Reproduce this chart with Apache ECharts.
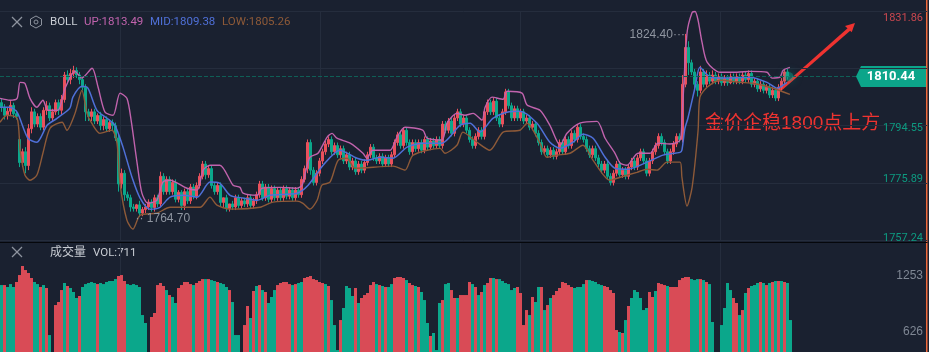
<!DOCTYPE html>
<html>
<head>
<meta charset="utf-8">
<style>html,body{margin:0;padding:0;background:#1a2130}#main{width:929px;height:352px}</style>
<script src="https://cdn.jsdelivr.net/npm/echarts@6/dist/echarts.min.js"></script>
</head>
<body>
<div id="main"></div>
<script>
const opens = [
1802,1800.5,1797.9,1799.2,1801.1,1798.4,1790,1782.5,1786,1781.5,
1793.5,1799,1795,1797.5,1794,1799.5,1801,1797,1799,1802,
1799.5,1803,1811,1809.5,1811.5,1812.5,1811,1809.5,1807,1799,
1797.5,1799,1796,1797.8,1794.5,1796.5,1793.5,1795.5,1794.5,1790.5,
1775.5,1779,1772,1771,1768,1767.5,1768.7,1766,1767.2,1768,
1769.6,1767.8,1771,1769,1778,1773,1777,1773,1776,1770.5,
1772.8,1768.5,1773,1770,1774.5,1771.5,1775,1778,1782,1778.5,
1780.5,1775,1773,1775,1769.5,1771,1767.5,1769,1768,1771,
1768.5,1770,1769,1771,1768.5,1770,1772,1775.5,1771,1774.5,
1770.5,1774,1771,1773.5,1771,1774,1771.5,1773.5,1771,1773.5,
1772,1777,1780.5,1789,1780,1776,1779,1783,1786,1788.5,
1790,1786,1788,1785,1787,1783,1785,1781,1783,1779.5,
1782,1780,1782.5,1785,1787.5,1784,1783,1784.5,1782,1784,
1782,1785,1789,1791.5,1788,1793,1789,1786,1789,1787,
1789,1786.5,1790,1787.5,1789.5,1788,1790,1788,1795,1793,
1796,1792,1797,1799,1795,1797,1793,1790,1788,1791,
1793,1791,1799,1802,1799,1802.5,1797,1795,1799,1805.5,
1801,1797,1800,1797,1799,1796,1797,1794,1795,1792,
1789,1786,1787,1785,1786.5,1784.5,1786,1789,1786,1790,
1788,1792,1790,1794,1791,1790,1787,1785,1787,1784,
1782,1780,1782,1778,1776,1779,1782,1778.5,1780,1778,
1781,1783,1781,1784,1786,1783,1779,1783,1786,1788,
1791,1789,1786,1783,1786,1788.5,1791,1790,1808,1820,
1815,1812,1808,1806,1812,1808,1811,1809,1811,1809,
1810.5,1808.5,1810,1808.5,1810.5,1809,1810.5,1809,1811,1809.5,
1811.5,1808,1809,1806.5,1808,1806,1807,1804.5,1806,1803.5,
1807,1809,1812
];
const closes = [
1800.5,1797.9,1799.2,1801.1,1798.4,1797.5,1782.5,1786,1781.5,1793.5,
1799,1795,1797.5,1794,1799.5,1801,1797,1799,1802,1799.5,
1803,1811,1809.5,1811.5,1812.5,1811,1809.5,1807,1799,1797.5,
1799,1796,1797.8,1794.5,1796.5,1793.5,1795.5,1794.5,1790.5,1775.5,
1779,1772,1771,1768,1767.5,1768.7,1766,1767.2,1768,1769.6,
1767.8,1771,1769,1778,1773,1777,1773,1776,1770.5,1772.8,
1768.5,1773,1770,1774.5,1771.5,1775,1778,1782,1778.5,1780.5,
1775,1773,1775,1769.5,1771,1767.5,1769,1768,1771,1768.5,
1770,1769,1771,1768.5,1770,1772,1775.5,1771,1774.5,1770.5,
1774,1771,1773.5,1771,1774,1771.5,1773.5,1771,1773.5,1772,
1777,1780.5,1789,1780,1776,1779,1783,1786,1788.5,1790,
1786,1788,1785,1787,1783,1785,1781,1783,1779.5,1782,
1780,1782.5,1785,1787.5,1784,1783,1784.5,1782,1784,1782,
1785,1789,1791.5,1788,1793,1789,1786,1789,1787,1789,
1786.5,1790,1787.5,1789.5,1788,1790,1788,1795,1793,1796,
1792,1797,1799,1795,1797,1793,1790,1788,1791,1793,
1791,1799,1802,1799,1802.5,1797,1795,1799,1805.5,1801,
1797,1800,1797,1799,1796,1797,1794,1795,1792,1789,
1786,1787,1785,1786.5,1784.5,1786,1789,1786,1790,1788,
1792,1790,1794,1791,1790,1787,1785,1787,1784,1782,
1780,1782,1778,1776,1779,1782,1778.5,1780,1778,1781,
1783,1781,1784,1786,1783,1779,1783,1786,1788,1791,
1789,1786,1783,1786,1788.5,1791,1790,1808,1820,1815,
1812,1808,1806,1812,1808,1811,1809,1811,1809,1810.5,
1808.5,1810,1808.5,1810.5,1809,1810.5,1809,1811,1809.5,1811.5,
1808,1809,1806.5,1808,1806,1807,1804.5,1806,1803.5,1807,
1809,1812,1810.44
];
const highs = [
1803.5,1801.5,1800.5,1802.5,1802,1799.5,1791,1787,1787.5,1795,
1800.5,1800,1798.5,1798.5,1800.5,1802.5,1802,1800,1803,1803,
1804.5,1812,1812.5,1813,1814,1813.5,1812,1810.5,1808,1800,
1800,1800,1798.5,1799,1797.5,1797.5,1796.5,1796.5,1795.5,1791.5,
1780.5,1780,1773,1772,1769,1769,1770,1768,1769,1770.5,
1770.5,1772,1772,1779.5,1779,1778,1778,1777,1777,1773.5,
1773.5,1774,1774,1775.5,1775.5,1776,1779,1783,1783,1781.5,
1781.5,1776,1776,1776,1771,1772,1769,1770,1772,1772,
1771,1771,1772,1772,1771,1773,1776.5,1776.5,1775.5,1775.5,
1775,1775,1774.5,1774.5,1775,1775,1774.5,1774.5,1774.5,1774.5,
1778,1781.5,1790,1790,1781,1780,1784,1787,1789.5,1791,
1791,1789,1789,1788,1788,1786,1786,1784,1784,1783,
1783,1783.5,1786,1788.5,1788.5,1785,1785.5,1785.5,1785,1785,
1786,1790,1792.5,1792.5,1794,1794,1790,1790,1790,1790,
1790,1791,1791,1790.5,1790.5,1791,1791,1796,1796,1797,
1797,1798,1800,1800,1798,1798,1794,1791,1792,1794,
1794,1800,1803,1803,1803.5,1803.5,1798,1800,1806.5,1806.5,
1802,1801,1801,1800,1800,1798,1798,1796,1796,1793,
1790,1788,1788,1787.5,1787.5,1787,1790,1790,1791,1791,
1793,1793,1795,1795,1792,1791,1788,1788,1788,1785,
1783,1783,1783,1779,1780,1783,1783,1781,1781,1782,
1784,1784,1785,1787,1787,1784,1784,1787,1789,1792,
1792,1790,1787,1787,1789.5,1792,1792,1811,1824.4,1822,
1816,1813,1809,1814,1813,1812.5,1812,1812.5,1812,1811.5,
1811.5,1811,1811,1811.5,1811.5,1811.5,1811.5,1812,1812,1812.5,
1812.5,1810,1810,1809,1809,1808,1808,1807,1807,1808,
1810,1813,1813
];
const lows = [
1799,1796.5,1796.5,1798,1797,1796.5,1781,1781,1779,1780,
1792,1794,1794,1793,1793,1798,1796,1796,1798,1798,
1798,1802,1808,1808,1810,1810,1808,1806,1796,1796,
1796,1795,1795,1793,1793,1792.5,1792.5,1793,1789.5,1773,
1774,1770,1770,1766.5,1766.5,1766.5,1764.7,1765,1766,1767,
1766.5,1766.5,1768,1768,1772,1772,1772,1772,1769.5,1769.5,
1767,1767,1769,1769,1770.5,1770.5,1774,1777,1777,1777.5,
1774,1772,1772,1768,1768,1766.5,1766.5,1767,1767,1767.5,
1767.5,1768,1768,1767.5,1767.5,1769,1771,1770,1770,1769.5,
1769.5,1770,1770,1770,1770,1770.5,1770.5,1770,1770,1771,
1771,1776,1779,1778.5,1775,1775,1778,1782,1785,1787.5,
1785,1785,1784,1784,1782,1782,1780,1780,1778.5,1778.5,
1779,1779,1781.5,1784,1783,1782,1782,1781,1781,1781,
1781,1784,1788,1787,1787,1788,1785,1785,1786,1786,
1785.5,1785.5,1786.5,1786.5,1787,1787,1787,1787,1792,1792,
1791,1791,1796,1794,1794,1792,1789,1787,1787,1790,
1790,1790,1798,1798,1798,1796,1794,1794,1798,1800,
1796,1796,1796,1796,1795,1795,1793,1793,1791,1788,
1785,1785,1784,1784,1783.5,1783.5,1785,1785,1785,1787,
1787,1789,1789,1790,1789,1786,1784,1784,1783,1781,
1779,1779,1777,1775,1775,1778,1777.5,1777.5,1777,1777,
1780,1780,1780,1783,1782,1778,1778,1782,1785,1787,
1788,1785,1782,1782,1785,1787.5,1789,1789,1807,1811,
1811,1806,1804,1805,1807,1807,1808,1808,1808,1808,
1807.5,1807.5,1807.5,1808,1808,1808,1808,1808,1808.5,1808.5,
1807,1807,1805.5,1805.5,1805,1805,1803.5,1803.5,1802.5,1802.5,
1806,1808,1809.5
];
const bollUp = [[0,1803.4],[3.3,1802.8],[5.7,1803.4],[6.7,1808.6],[8.3,1808.3],[10,1803.4],[12.3,1800.5],[14.3,1802.8],[16,1799.5],[19.3,1799.5],[21.7,1806.7],[25,1812.2],[27.3,1810],[30.7,1813.2],[32.7,1807],[35,1798.9],[37.7,1797.9],[40,1805.1],[42.3,1803.4],[43.7,1796.3],[45.7,1782.3],[47.3,1772.5],[49.3,1769.2],[52.3,1770.2],[54.3,1776.1],[56.7,1776.7],[62.3,1774.1],[65.7,1773.5],[67.7,1780],[70,1781.6],[73.3,1781.6],[77.7,1775.1],[80,1774.4],[81,1772.5],[85.7,1771.8],[87.3,1774.1],[93.3,1774.4],[99,1774.1],[100.7,1775.1],[102,1780],[103.3,1784.2],[106,1785.5],[109,1790.7],[110.7,1792],[112.3,1790.4],[116.7,1788.8],[121,1785.5],[122.3,1783.9],[124.3,1786.5],[130,1786.5],[132.3,1790.7],[135,1794],[141,1793],[142.3,1790.4],[147.3,1789.8],[149,1795.3],[152.3,1798.5],[155,1797.9],[157.7,1798.5],[160.7,1796.3],[161.7,1800.5],[164,1803.8],[167.7,1803.1],[169,1805.7],[174,1805.1],[175.7,1801.2],[180,1799.5],[183.3,1794.6],[186.7,1788.1],[189,1792],[193.3,1795.3],[199,1795.9],[201.7,1790.4],[205,1785.5],[206.7,1782.3],[209,1781.6],[212.7,1785.5],[216.7,1785.5],[219.3,1788.8],[223.3,1788.5],[226.7,1789.8],[227.3,1796.3],[229,1824.6],[230.7,1831.4],[231.7,1831.7],[232.7,1828.8],[234,1821.7],[235.7,1815.2],[240,1811.9],[245.7,1811.9],[250,1812.2],[255.7,1811.9],[257.3,1810],[260,1810.3],[261,1812.5],[263.3,1813.5]];
const bollMid = [[0,1800.5],[3.3,1800.5],[5.7,1798.9],[9.3,1790.4],[12.3,1789.1],[15.7,1794.6],[19,1796.9],[23.3,1800.2],[24.3,1803.8],[27.3,1807.3],[29.3,1806.7],[32.3,1799.5],[35.7,1796.9],[38.3,1794.6],[41,1787.5],[44,1777.7],[46.7,1770.9],[50,1767.3],[53.3,1767.9],[56.7,1771.2],[61,1771.8],[65.7,1771.2],[70,1776.1],[73.3,1775.7],[76.7,1771.8],[81,1770.9],[85.7,1770.2],[90,1771.8],[99,1772.5],[102.7,1775.1],[107.7,1781.6],[113.3,1786.5],[119,1783.9],[122.3,1783.2],[126.7,1784.2],[131,1783.9],[135.7,1787.5],[141,1788.8],[147.3,1788.8],[153.3,1794.6],[156.7,1795.3],[160,1792.4],[164.3,1796.9],[169,1798.9],[173.3,1799.2],[179,1795.3],[183.3,1789.1],[186.7,1787.1],[191,1789.1],[194.3,1791.7],[197.7,1790.4],[201.7,1784.2],[205,1780.6],[209.3,1780.3],[215.7,1782.6],[221,1784.9],[226.7,1785.8],[227.3,1786.5],[228.3,1793.6],[229.3,1796.9],[231.7,1807],[233.3,1813.5],[236.7,1810.3],[243.3,1810],[250,1810.3],[255.7,1808.6],[259,1806.7],[262.3,1808.6]];
const bollLow = [[0,1795.6],[2.3,1797.9],[5.7,1796.9],[6.7,1786.5],[8.3,1778.4],[10,1776.7],[12.3,1778.4],[14.3,1785.5],[16.7,1793.7],[20.7,1795.6],[22.3,1793],[25,1798.5],[27.3,1806],[29,1798.5],[30,1796.3],[33.3,1792],[37.3,1793],[39,1788.8],[40,1775.7],[42.3,1763.7],[44.3,1760.8],[46.7,1765.3],[52.3,1766],[56.7,1767.9],[60,1767.9],[66.7,1767.9],[70,1771.2],[72.3,1768.6],[76.7,1767.3],[86.7,1767.9],[91,1769.6],[99,1769.9],[101,1769.2],[103.3,1767.3],[105.7,1770.2],[107.3,1775.1],[110,1776.1],[112.7,1783.2],[115.7,1783.9],[118.3,1780.6],[131,1781.3],[135,1780],[137.7,1784.9],[146.7,1787.1],[148.3,1785.5],[152.3,1788.1],[154.3,1792.4],[159,1789.1],[163.3,1786.5],[167.7,1792.4],[173.3,1793],[175.7,1795.3],[180,1788.8],[182.3,1784.2],[185.7,1784.9],[190,1785.5],[194.3,1788.1],[197.7,1783.2],[203.3,1776.7],[206.7,1777.7],[212.3,1779.3],[215.7,1780.3],[219,1780],[222.3,1782.6],[226.7,1782.6],[227.3,1777.7],[229,1768.3],[230.7,1774.4],[232.7,1793],[233.3,1803.8],[235.7,1807],[240,1809.3],[246.7,1808.6],[251,1808.3],[257.7,1806.7],[263.3,1804.7]];
const volumes = [
1152,1152,1130,1163,1130,1186,1264,1365,1320,1287,
1231,1186,1163,1130,1152,1119,592,0,928,962,
1096,1175,1141,1119,1074,1007,1029,1130,1163,1175,
1186,1175,1163,1175,1163,1186,1197,1197,1219,1253,
1264,1197,1163,1152,1163,1152,1130,816,727,0,
794,839,1152,1175,1141,1096,1040,1018,951,1119,
1152,1186,1186,1163,1152,1175,1197,1219,1219,1219,
1208,1197,1186,1175,1163,1130,1096,962,592,592,
0,704,917,783,1085,1141,1152,1096,1074,951,
1018,1096,1152,1175,1186,1186,1163,1152,1163,1175,
1186,1231,1242,1253,1219,1208,1186,1175,1163,1141,
984,704,424,760,895,1141,1119,1029,1119,951,
1007,1040,1063,1152,1186,1163,1152,1141,1130,1130,
1163,1231,1242,1242,1231,1208,1175,1152,1141,1130,
1074,984,727,581,615,424,951,984,1163,1175,
1096,1007,1007,1040,1040,1040,1186,1163,1130,1040,
1074,1152,1175,1231,1231,1219,1219,1197,1175,1163,
1096,1119,1130,1063,704,872,816,1018,962,1130,
1130,872,928,1007,1040,1085,1119,1186,1175,1152,
1130,1119,1130,1130,1163,1208,1208,1197,1186,1163,
1152,1141,1130,1096,1063,648,626,615,760,917,
1007,1096,1074,1007,872,895,1074,1018,1085,1175,
1163,1152,1141,1130,1130,1130,1208,1231,1242,1242,
1219,1208,1219,1219,1208,1186,1163,738,0,0,
704,895,1175,1096,1007,951,816,872,1063,1119,
1141,1152,1175,1186,1175,1152,1175,1186,1197,1197,
1197,1186,1175,760
];
const volSides = ('grgggrrrrr' + 'rggrgrgrrr' + 'rgrgggrggg' + 'ggrggggggr' + 'rrgggggggg' + 'rrrrrgrggr' + 'rrrrgrrrgr' +
  'ggrgggrggg' + 'grrgrgrgrg' + 'ggrrrrrgrg' + 'grrrrrrrgr' + 'gggrggggrg' + 'rrrrrgrgrg' + 'grrrrgrrgr' +
  'gggrgggrgg' + 'rrgrrrrgrg' + 'rgrrgrgggg' + 'ggrrrrgrgg' + 'rgrgrrrrrr' + 'rggggrgggg' + 'grrrrrgrgr' +
  'ggggggrrgr' + 'rrgrrrrrrr' + 'gggrgrggrg' + 'ggggrrgrgr' + 'gggrgrgrgr' + 'grgg').split('');
const priceTicks = [1757.24, 1775.89, 1794.55, 1813.2, 1831.86];
const priceLabels = [1757.24, 1775.89, 1794.55, 1831.86];
const volTicks = [626, 1253];
const lastPrice = 1810.44;
const highMark = 1824.40;
const lowMark = 1764.70;
const vLines = [40, 106.67, 173.33, 240];

const RED = '#e9505c', GREEN = '#0ba78b', VOLRED = '#d94b56';
const FONT = 'Roboto, "Noto Sans CJK SC", sans-serif';
const myChart = echarts.init(document.getElementById('main'));

function cross(cx, cy) {
  const st = { stroke: '#8d939e', lineWidth: 1.2 };
  return {
    type: 'group', children: [
      { type: 'line', shape: { x1: cx - 5, y1: cy - 5, x2: cx + 5, y2: cy + 5 }, style: st },
      { type: 'line', shape: { x1: cx + 5, y1: cy - 5, x2: cx - 5, y2: cy + 5 }, style: st }
    ]
  };
}
function txt(x, y, text, fill, size) {
  return { type: 'text', x, y, style: { text, fill, font: `${size || 11.5}px ${FONT}`, verticalAlign: 'middle' } };
}
// axis labels do not sit on their grid lines in the picture, so each gets its own nudge
function priceLabel(v) {
  const key = { 1831.86: 'a', 1794.55: 'b', 1775.89: 'c', 1757.24: 'd' }[v];
  return `{${key}|${v.toFixed(2)}}`;
}
const labelBase = { color: '#0d9a80', fontFamily: 'Roboto', fontSize: 11 };

const option = {
  animation: false,
  backgroundColor: '#1a2130',
  grid: [
    { left: 0, right: 2, top: 11, height: 229 },
    { left: 0, right: 2, top: 242, height: 110 }
  ],
  xAxis: [0, 1].map((g) => ({
    type: 'value', gridIndex: g, min: 0, max: 309, position: g ? 'top' : 'bottom',
    axisLabel: { show: false },
    axisTick: { show: false, customValues: vLines },
    axisLine: g ? { show: true, onZero: false, lineStyle: { color: '#05070b', width: 1.2 } } : { show: false },
    splitLine: { show: true, lineStyle: { color: '#252d3d', width: 1 } }
  })),
  yAxis: [
    {
      type: 'value', gridIndex: 0, position: 'right', min: 1757.24, max: 1831.86,
      axisLine: { show: false },
      axisTick: { show: false, customValues: priceTicks },
      splitLine: { show: true, lineStyle: { color: '#252d3d', width: 1 } },
      axisLabel: {
        inside: true, margin: 4, customValues: priceLabels,
        fontFamily: 'Roboto', fontSize: 11,
        formatter: priceLabel,
        rich: {
          a: { ...labelBase, color: '#c9474f', padding: [14, 0, 0, 0] },
          b: { ...labelBase, padding: [6, 0, 0, 0] },
          c: { ...labelBase, padding: [0, 0, 8, 0] },
          d: { ...labelBase, padding: [0, 0, 4, 0] }
        }
      }
    },
    {
      type: 'value', gridIndex: 1, position: 'right', min: 402, max: 1634,
      axisLine: { show: false },
      axisTick: { show: false, customValues: volTicks },
      splitLine: { show: false },
      axisLabel: { inside: true, margin: 4, customValues: volTicks, formatter: (v) => String(v), color: '#7f8794', fontFamily: 'Liberation Sans', fontSize: 12 }
    }
  ],
  series: [
    {
      type: 'candlestick', xAxisIndex: 0, yAxisIndex: 0, barWidth: 1.6,
      encode: { x: 0, y: [1, 2, 3, 4] },
      data: opens.map((o, i) => [i + 0.5, o, closes[i], lows[i], highs[i]]),
      itemStyle: { color: RED, color0: GREEN, borderColor: RED, borderColor0: GREEN, borderWidth: 1 },
      markLine: {
        silent: true, symbol: 'none', label: { show: false },
        lineStyle: { color: '#0f5f56', type: 'dashed', width: 1 },
        data: [[{ coord: [0, lastPrice] }, { coord: [285.5, lastPrice] }]]
      },
      markPoint: {
        symbol: 'circle', symbolSize: 1, itemStyle: { color: 'transparent' },
        data: [
          { coord: [228.8, highMark], label: { show: true, position: 'left', distance: 1, offset: [0, 1], formatter: `${highMark.toFixed(2)}···`, color: '#8f95a0', fontFamily: 'Liberation Sans', fontSize: 12 } },
          { coord: [45, lowMark], label: { show: true, position: 'right', distance: 0, offset: [0, 2], formatter: `·· ${lowMark.toFixed(2)}`, color: '#8f95a0', fontFamily: 'Liberation Sans', fontSize: 12 } }
        ]
      }
    },
    { type: 'line', name: 'UP', data: bollUp, symbol: 'none', smooth: 0.25, z: 4, lineStyle: { color: '#c163ad', width: 1.4 } },
    { type: 'line', name: 'MID', data: bollMid, symbol: 'none', smooth: 0.25, z: 4, lineStyle: { color: '#4f70d8', width: 1.5 } },
    { type: 'line', name: 'LOW', data: bollLow, symbol: 'none', smooth: 0.25, z: 4, lineStyle: { color: '#8e5a38', width: 1.4 } },
    {
      type: 'scatter', data: [[263, lastPrice]], symbolSize: 9, z: 5,
      itemStyle: { color: 'rgba(14,165,138,0.55)', shadowBlur: 10, shadowColor: '#0ea58a' }
    },
    {
      type: 'bar', xAxisIndex: 1, yAxisIndex: 1, barWidth: 3,
      data: volumes.map((v, i) => ({ value: [i + 0.5, v], itemStyle: { color: volSides[i] === 'r' ? VOLRED : GREEN } }))
    }
  ],
  graphic: [
    cross(17, 22),
    { type: 'polygon', shape: { points: [[36, 16], [41.5, 19], [41.5, 25], [36, 28], [30.5, 25], [30.5, 19]] }, style: { stroke: '#8d939e', fill: null, lineWidth: 1 } },
    { type: 'circle', shape: { cx: 36, cy: 22, r: 2 }, style: { stroke: '#8d939e', fill: null, lineWidth: 1 } },
    txt(50, 22, 'BOLL', '#c8ccd3'),
    txt(84, 22, 'UP:1813.49', '#c163ad'),
    txt(150, 22, 'MID:1809.38', '#4f70d8'),
    txt(222, 22, 'LOW:1805.26', '#8e5a38'),
    cross(17, 252),
    txt(50, 253, '成交量', '#c8ccd3', 12),
    txt(93, 253, 'VOL:711', '#c8ccd3'),
    { type: 'polygon', shape: { points: [[856, 76.5], [861, 66], [926, 66], [926, 87], [861, 87]] }, style: { fill: '#0ca58a' } },
    { type: 'text', x: 891, y: 76.5, style: { text: '1810.44', fill: '#fff', font: 'bold 13px Roboto', align: 'center', verticalAlign: 'middle' } },
    { type: 'polygon', shape: { points: [[779, 89], [849, 27], [851, 30], [781, 91]] }, style: { fill: '#ef3330' } },
    { type: 'polygon', shape: { points: [[855, 23], [845, 26], [851.7, 32.3]] }, style: { fill: '#ef3330' } },
    { type: 'text', x: 705, y: 124, style: { text: '金价企稳1800点上方', fill: '#ef3330', font: '19px "Liberation Sans", "Noto Sans CJK SC"', verticalAlign: 'middle' } },
    { type: 'rect', shape: { x: 926, y: 0, width: 1.5, height: 352 }, style: { fill: '#ee6a3c' } }
  ]
};
myChart.setOption(option, true);
</script>
</body>
</html>
